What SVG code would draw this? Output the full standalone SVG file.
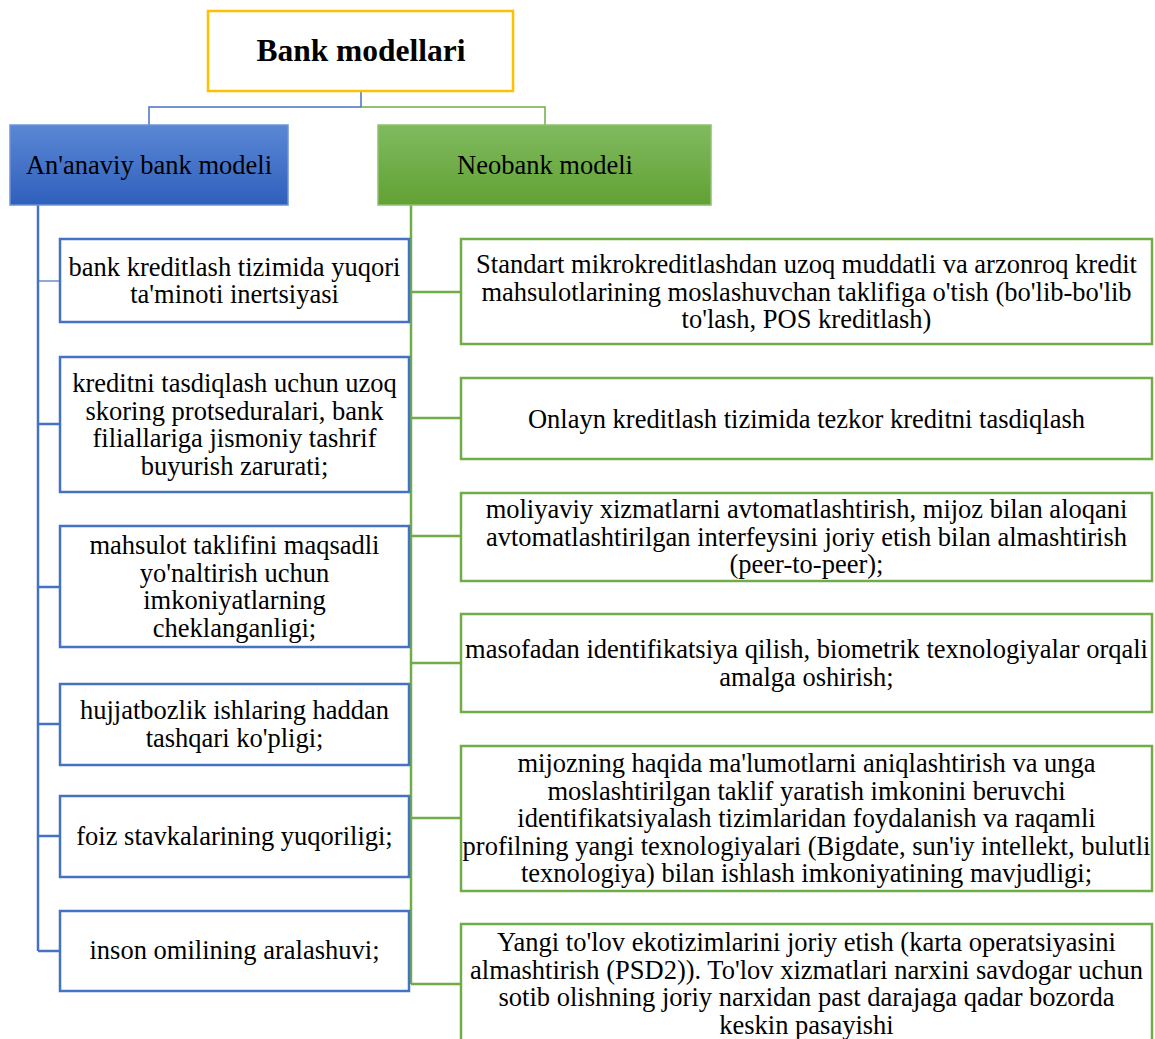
<svg xmlns="http://www.w3.org/2000/svg" width="1155" height="1039" viewBox="0 0 1155 1039">
<defs>
<linearGradient id="gBlue" x1="0" y1="0" x2="0" y2="1"><stop offset="0" stop-color="#5B87D4"/><stop offset="1" stop-color="#2E5FBC"/></linearGradient>
<linearGradient id="gGreen" x1="0" y1="0" x2="0" y2="1"><stop offset="0" stop-color="#80BA5F"/><stop offset="1" stop-color="#62A134"/></linearGradient>
<style>
text{font-family:"Liberation Serif","Times New Roman",serif;font-size:26.5px;fill:#000;text-anchor:middle}
.title{font-weight:bold;font-size:31.5px}
.lb{fill:#fff;stroke:#4472C4;stroke-width:2.5}
.rb{fill:#fff;stroke:#70AD47;stroke-width:2.5}
.bl{stroke:#4472C4;stroke-width:2.5;fill:none}
.gl{stroke:#70AD47;stroke-width:2.5;fill:none}
</style>
</defs>
<rect width="1155" height="1039" fill="#fff"/>
<g id="connectors">
<path d="M361 91V107H149V125" fill="none" stroke="#4472C4" stroke-width="1.5"/>
<path d="M361 107H545V125" fill="none" stroke="#70AD47" stroke-width="1.5"/>
<path class="bl" d="M38 205V951"/>
<path d="M38 281H60" stroke="#4472C4" stroke-width="1.2"/>
<path class="bl" d="M38 424H60M38 587H60M38 724H60M38 836H60M38 951H60"/>
<path class="gl" d="M411 205V984"/>
<path class="gl" d="M411 292H461M411 418H461M411 536H461M411 663H461M411 818H461M411 984H461"/>
</g>
<g id="root">
<rect x="208" y="11" width="305" height="80" fill="#fff" stroke="#FFC000" stroke-width="2.5"/>
<text class="title" x="361" y="61">Bank modellari</text>
</g>
<g id="traditional">
<rect x="10" y="125" width="278" height="80" fill="url(#gBlue)" stroke="#6F92D6" stroke-width="1.5"/>
<text x="149" y="174">An'anaviy bank modeli</text>
</g>
<g id="neobank">
<rect x="378" y="125" width="333" height="80" fill="url(#gGreen)" stroke="#8CC26C" stroke-width="1.5"/>
<text x="545" y="174">Neobank modeli</text>
</g>
<g id="t1"><rect class="lb" x="60" y="239" width="349" height="83"/>
<text x="234.5" y="275.5">bank kreditlash tizimida yuqori</text><text x="234.5" y="302.5">ta'minoti inertsiyasi</text></g>
<g id="t2"><rect class="lb" x="60" y="357" width="349" height="135"/>
<text x="234.5" y="392">kreditni tasdiqlash uchun uzoq</text><text x="234.5" y="419.5">skoring protseduralari, bank</text><text x="234.5" y="447">filiallariga jismoniy tashrif</text><text x="234.5" y="474.5">buyurish zarurati;</text></g>
<g id="t3"><rect class="lb" x="60" y="526" width="349" height="121"/>
<text x="234.5" y="554">mahsulot taklifini maqsadli</text><text x="234.5" y="581.5">yo'naltirish uchun</text><text x="234.5" y="609">imkoniyatlarning</text><text x="234.5" y="636.5">cheklanganligi;</text></g>
<g id="t4"><rect class="lb" x="60" y="684" width="349" height="81"/>
<text x="234.5" y="719">hujjatbozlik ishlaring haddan</text><text x="234.5" y="746.5">tashqari ko'pligi;</text></g>
<g id="t5"><rect class="lb" x="60" y="796" width="349" height="81"/>
<text x="234.5" y="845">foiz stavkalarining yuqoriligi;</text></g>
<g id="t6"><rect class="lb" x="60" y="911" width="349" height="80"/>
<text x="234.5" y="959">inson omilining aralashuvi;</text></g>
<g id="n1"><rect class="rb" x="461" y="239" width="691" height="105"/>
<text x="806.5" y="273">Standart mikrokreditlashdan uzoq muddatli va arzonroq kredit</text><text x="806.5" y="300.5">mahsulotlarining moslashuvchan taklifiga o'tish (bo'lib-bo'lib</text><text x="806.5" y="328">to'lash, POS kreditlash)</text></g>
<g id="n2"><rect class="rb" x="461" y="378" width="691" height="81"/>
<text x="806.5" y="427.5">Onlayn kreditlash tizimida tezkor kreditni tasdiqlash</text></g>
<g id="n3"><rect class="rb" x="461" y="493" width="691" height="88"/>
<text x="806.5" y="518">moliyaviy xizmatlarni avtomatlashtirish, mijoz bilan aloqani</text><text x="806.5" y="545.5">avtomatlashtirilgan interfeysini joriy etish bilan almashtirish</text><text x="806.5" y="573">(peer-to-peer);</text></g>
<g id="n4"><rect class="rb" x="461" y="614" width="691" height="98"/>
<text x="806.5" y="658">masofadan identifikatsiya qilish, biometrik texnologiyalar orqali</text><text x="806.5" y="685.5">amalga oshirish;</text></g>
<g id="n5"><rect class="rb" x="461" y="746" width="691" height="145"/>
<text x="806.5" y="772">mijozning haqida ma'lumotlarni aniqlashtirish va unga</text><text x="806.5" y="799.5">moslashtirilgan taklif yaratish imkonini beruvchi</text><text x="806.5" y="827">identifikatsiyalash tizimlaridan foydalanish va raqamli</text><text x="806.5" y="854.5">profilning yangi texnologiyalari (Bigdate, sun'iy intellekt, bulutli</text><text x="806.5" y="882">texnologiya) bilan ishlash imkoniyatining mavjudligi;</text></g>
<g id="n6"><rect class="rb" x="461" y="924" width="691" height="125"/>
<text x="806.5" y="951">Yangi to'lov ekotizimlarini joriy etish (karta operatsiyasini</text><text x="806.5" y="978.5">almashtirish (PSD2)). To'lov xizmatlari narxini savdogar uchun</text><text x="806.5" y="1006">sotib olishning joriy narxidan past darajaga qadar bozorda</text><text x="806.5" y="1033.5">keskin pasayishi</text></g>
</svg>
